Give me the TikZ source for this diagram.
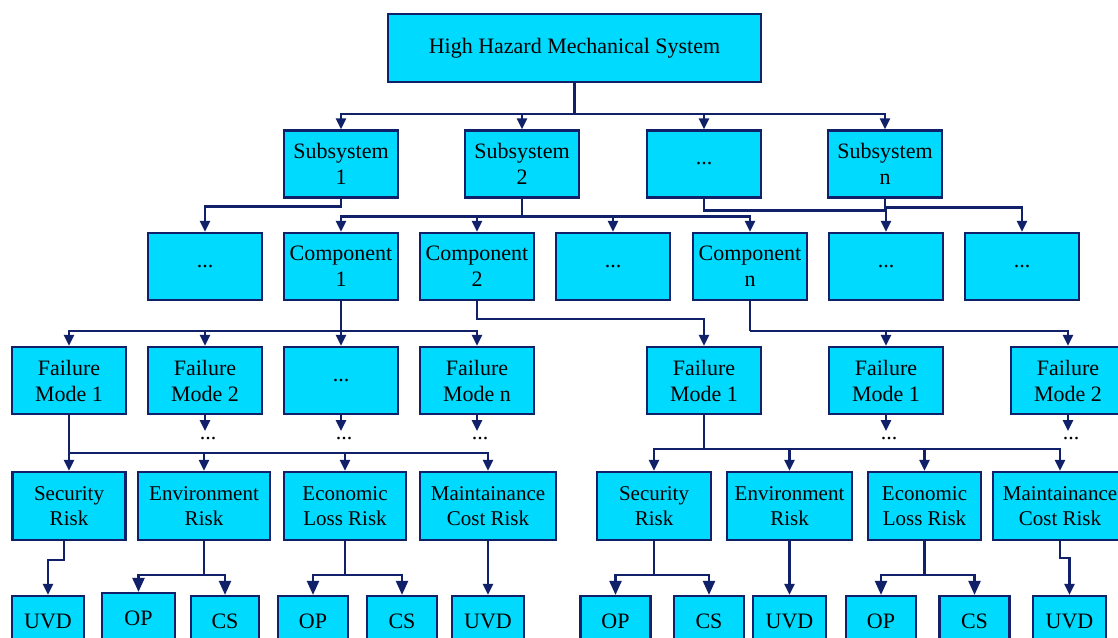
\documentclass[tikz,border=0pt]{standalone}
\usepackage{fontspec}
\setmainfont{Liberation Serif}
\usetikzlibrary{arrows.meta}
\definecolor{boxfill}{RGB}{0,218,255}
\definecolor{linecol}{RGB}{16,32,105}

\begin{document}
\begin{tikzpicture}[x=1pt,y=-1pt,
  blk/.style={draw=linecol, line width=2.2pt, fill=boxfill, minimum width=114pt, minimum height=67pt,
    inner sep=0pt, align=center, font=\fontsize{22}{26}\selectfont},
  risk/.style={blk, minimum height=68pt, font=\fontsize{21}{25}\selectfont},
  leaf/.style={blk, minimum width=70pt, minimum height=50pt},
  con/.style={draw=linecol, line width=2.3pt},
  big/.style={arrows={-Triangle[length=14pt,width=12pt]}},
  dots/.style={anchor=north, inner sep=0pt, text height=8pt, text depth=0pt, font=\fontsize{22}{26}\selectfont},
  >={Triangle[length=11pt,width=10pt]}]
\clip (0,0) rectangle (1118,637);

\node[blk, minimum width=373pt, minimum height=68pt] (hms) at (574.5,48) {High Hazard Mechanical System};

\node[blk] (s1) at (341,164) {Subsystem\\1};
\node[blk] (s2) at (522,164) {Subsystem\\2};
\node[blk] (sd) at (704,164) {...};
\node[blk] (sn) at (885,164) {Subsystem\\n};

\node[blk] (c0) at (205,266.5) {...};
\node[blk] (c1) at (341,266.5) {Component\\1};
\node[blk] (c2) at (477,266.5) {Component\\2};
\node[blk] (c3) at (613,266.5) {...};
\node[blk] (cn) at (750,266.5) {Component\\n};
\node[blk] (c4) at (886,266.5) {...};
\node[blk] (c5) at (1022,266.5) {...};

\node[blk] (fa1) at (69,380.5) {Failure\\Mode 1};
\node[blk] (fa2) at (205,380.5) {Failure\\Mode 2};
\node[blk] (fad) at (341,380.5) {...};
\node[blk] (fan) at (477,380.5) {Failure\\Mode n};
\node[blk] (fb1) at (704,380.5) {Failure\\Mode 1};
\node[blk] (fc1) at (886,380.5) {Failure\\Mode 1};
\node[blk] (fc2) at (1068,380.5) {Failure\\Mode 2};

% risks
\node[risk, minimum width=113pt] (ra1) at (69,506) {Security\\Risk};
\node[risk, minimum width=132pt] (ra2) at (204,506) {Environment\\Risk};
\node[risk, minimum width=122pt] (ra3) at (345,506) {Economic\\Loss Risk};
\node[risk, minimum width=136pt] (ra4) at (488,506) {Maintainance\\Cost Risk};
\node[risk, minimum width=114pt] (rb1) at (654,506) {Security\\Risk};
\node[risk, minimum width=125pt] (rb2) at (789.5,506) {Environment\\Risk};
\node[risk, minimum width=113pt] (rb3) at (924.5,506) {Economic\\Loss Risk};
\node[risk, minimum width=134pt] (rb4) at (1060,506) {Maintainance\\Cost Risk};

\node[leaf, minimum width=72pt] (la1) at (48,621) {UVD};
\node[leaf, minimum width=73pt] (la2) at (138.5,618) {OP};
\node[leaf, minimum width=68pt] (la3) at (225,621) {CS};
\node[leaf] (la4) at (313,621) {OP};
\node[leaf] (la5) at (402,621) {CS};
\node[leaf, minimum width=72pt] (la6) at (488,621) {UVD};
\node[leaf] (lb1) at (615.5,621) {OP};
\node[leaf] (lb2) at (709,621) {CS};
\node[leaf, minimum width=73pt] (lb3) at (789.5,621) {UVD};
\node[leaf] (lb4) at (881,621) {OP};
\node[leaf] (lb5) at (974.5,621) {CS};
\node[leaf, minimum width=73pt] (lb6) at (1069.5,621) {UVD};

\draw[con] (hms.south) -- ++(0,31) coordinate (t0);
\foreach \n in {s1,s2,sd,sn} \draw[con,->] (t0) -| (\n.north);

\draw[con,->] (s1.south) -- ++(0,8) -| (c0.north);
\draw[con] (s2.south) -- ++(0,18) coordinate (t2);
\foreach \n in {c1,c2,c3,cn} \draw[con,->] (t2) -| (\n.north);
\draw[con,->] (sd.south) -- ++(0,12) -| (c4.north);
\draw[con,->] (sn.south) -- ++(0,9) -| (c5.north);

\draw[con] (c1.south) -- ++(0,30) coordinate (t3);
\foreach \n in {fa1,fa2,fad,fan} \draw[con,->] (t3) -| (\n.north);
\draw[con,->] (c2.south) -- ++(0,18) -| (fb1.north);
\draw[con] (cn.south) -- ++(0,30) coordinate (t4);
\foreach \n in {fc1,fc2} \draw[con,->] (t4) -| (\n.north);

\foreach \n/\m in {fa2/e1,fad/e2,fan/e3,fc1/e4,fc2/e5} {
  \node[dots] (\m) at ([xshift=3pt,yshift=-16pt]\n.south) {...};
  \draw[con,->] (\n.south) -- (\n.south |- \m.north);
}

\draw[con] (fa1.south) -- ++(0,38) coordinate (t5);
\foreach \n in {ra1,ra2,ra3,ra4} \draw[con,->] (t5) -| (\n.north);
\draw[con] (fb1.south) -- ++(0,34) coordinate (t6);
\foreach \n in {rb1,rb2,rb3,rb4} \draw[con,->] (t6) -| (\n.north);

\draw[con,->] ([xshift=-5pt]ra1.south) -- ++(0,19) -| (la1.north);
\draw[con] (ra2.south) -- ++(0,34) coordinate (t7);
\foreach \n in {la2,la3} \draw[con,big] (t7) -| (\n.north);
\draw[con] (ra3.south) -- ++(0,34) coordinate (t8);
\foreach \n in {la4,la5} \draw[con,big] (t8) -| (\n.north);
\draw[con,->] (ra4.south) -- (la6.north);

\draw[con] (rb1.south) -- ++(0,34) coordinate (t9);
\foreach \n in {lb1,lb2} \draw[con,big] (t9) -| (\n.north);
\draw[con,->] (rb2.south) -- (lb3.north);
\draw[con] (rb3.south) -- ++(0,34) coordinate (t10);
\foreach \n in {lb4,lb5} \draw[con,big] (t10) -| (\n.north);
\draw[con,->] (rb4.south) -- ++(0,17) -| (lb6.north);
\end{tikzpicture}
\end{document}
